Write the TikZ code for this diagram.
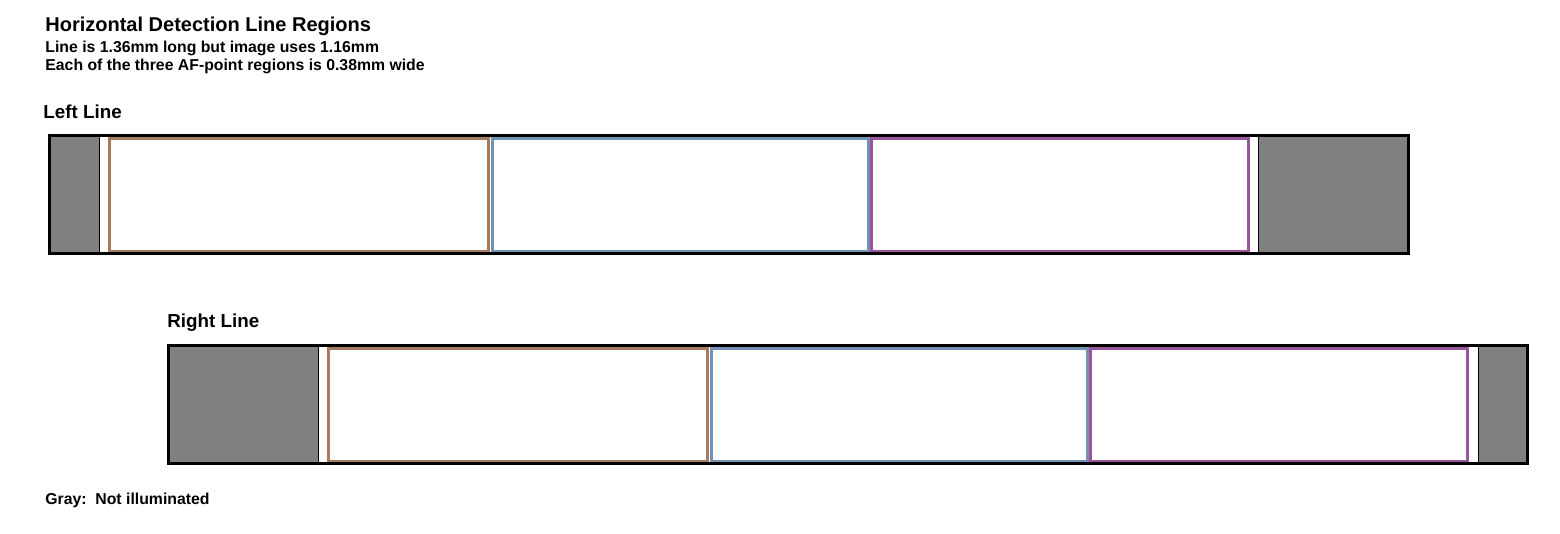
\documentclass[tikz,border=0pt]{standalone}
\usepackage{fontspec}
\setmainfont{Liberation Sans}
\definecolor{brownr}{RGB}{166,124,97}
\definecolor{bluer}{RGB}{116,145,180}
\definecolor{purpr}{RGB}{151,86,156}
\definecolor{grayr}{RGB}{128,128,128}
\tikzset{
  lbl/.style={anchor=base west,inner sep=0pt,font=\bfseries},
  outerbox/.style={draw=black,line width=1.5pt},
  grayfill/.style={fill=grayr},
  sep/.style={draw=black,line width=0.5pt},
  region/.style={line width=1.5pt},
}
\begin{document}
\begin{tikzpicture}[x=0.5pt,y=-0.5pt]
\useasboundingbox (0,0) rectangle (1560,534);
% texts
\node[lbl,font=\bfseries\fontsize{10pt}{12pt}\selectfont] (title) at (45,31.5) {Horizontal Detection Line Regions};
\node[lbl,font=\bfseries\fontsize{7.9pt}{9pt}\selectfont] (l1) at (45,53) {Line is 1.36mm long but image uses 1.16mm};
\node[lbl,font=\bfseries\fontsize{7.9pt}{9pt}\selectfont] (l2) at (45,70.5) {Each of the three AF-point regions is 0.38mm wide};
\node[lbl,font=\bfseries\fontsize{9.4pt}{11pt}\selectfont] (leftlbl) at (43,119) {Left Line};
\node[lbl,font=\bfseries\fontsize{9.4pt}{11pt}\selectfont] (rightlbl) at (167,328) {Right Line};
\node[lbl,font=\bfseries\fontsize{7.9pt}{9pt}\selectfont] (grayn) at (45,504) {Gray:\ \ Not illuminated};
% Left line
\fill[grayfill] (50,136) rectangle (99,253);
\fill[grayfill] (1259,136) rectangle (1408,253);
\draw[sep] (99.5,136) -- (99.5,253);
\draw[sep] (1258.5,136) -- (1258.5,253);
\draw[region,draw=brownr] (109.7,138.2) rectangle (488.3,251.3);
\draw[region,draw=bluer] (492,138.2) rectangle (868.3,251.3);
\draw[region,draw=purpr] (871.6,138.2) rectangle (1248.3,251.3);
\draw[outerbox] (49.5,135.5) rectangle (1408.5,253.5);
% Right line
\fill[grayfill] (169,346) rectangle (318,463);
\fill[grayfill] (1479,346) rectangle (1527,463);
\draw[sep] (318.5,346) -- (318.5,463);
\draw[sep] (1478.5,346) -- (1478.5,463);
\draw[region,draw=brownr] (328.7,348.2) rectangle (707.3,461.3);
\draw[region,draw=bluer] (711,348.2) rectangle (1087.3,461.3);
\draw[region,draw=purpr] (1090.6,348.2) rectangle (1467.3,461.3);
\draw[outerbox] (168.5,345.5) rectangle (1527.5,463.5);
\end{tikzpicture}
\end{document}
